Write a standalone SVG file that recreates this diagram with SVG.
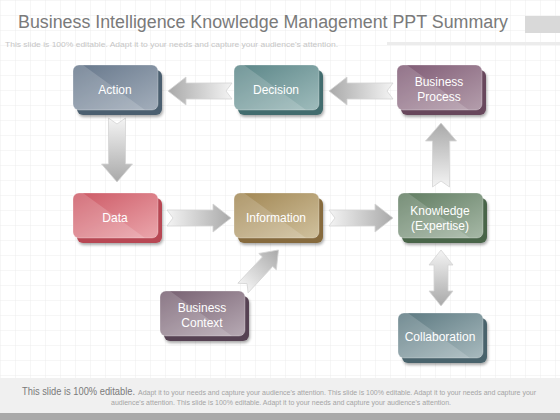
<svg xmlns="http://www.w3.org/2000/svg" xmlns:xlink="http://www.w3.org/1999/xlink" width="560" height="420" viewBox="0 0 560 420">
<style>
.lbl{font-family:"Liberation Sans",Arial,sans-serif;font-size:12px;fill:#ffffff;text-anchor:middle}
.arrow{stroke:#d4d4d4;stroke-width:0.8;fill:url(#ag)}
.hl{fill:#ffffff;fill-opacity:0.16}
.front{stroke:#ffffff;stroke-opacity:0.35;stroke-width:0.8}
</style>
<defs>
<pattern id="grid" width="15" height="15" patternUnits="userSpaceOnUse">
<path d="M15 0H0V15" fill="none" stroke="#e9e9e9" stroke-width="0.8"/>
</pattern>
<linearGradient id="ag" x1="0" y1="0" x2="1" y2="0">
<stop offset="0" stop-color="#f4f4f4"/>
<stop offset="1" stop-color="#a9a9a9"/>
</linearGradient>
<filter id="ds" x="-20%" y="-20%" width="140%" height="150%">
<feGaussianBlur in="SourceAlpha" stdDeviation="1.5"/>
<feOffset dx="0.5" dy="1.5" result="b"/>
<feComponentTransfer><feFuncA type="linear" slope="0.35"/></feComponentTransfer>
<feMerge><feMergeNode/><feMergeNode in="SourceGraphic"/></feMerge>
</filter>
<clipPath id="bc"><rect x="0" y="0" width="85" height="45" rx="6"/></clipPath>
<path id="hlp" d="M0 0H10L72 45H0Z"/>
<path id="arr" d="M0 -8H46V-14L64 0L46 14V8H0L6 0Z"/>
<path id="arrV" d="M0 -8.5H46V-15.5L64 0L46 15.5V8.5H0L6 0Z"/>
<path id="arrD" d="M0 0L15 -12V-7H41V-12L56 0L41 12V7H15V12Z"/>
<path id="arrS" d="M0 -7H36V-12L52 0L36 12V7H0L6 0Z"/>
<linearGradient id="g1" x1="0" y1="0" x2="1" y2="1"><stop offset="0" stop-color="#66778b"/><stop offset="1" stop-color="#a3aebb"/></linearGradient>
<linearGradient id="g2" x1="0" y1="0" x2="1" y2="1"><stop offset="0" stop-color="#5a8587"/><stop offset="1" stop-color="#9fbcbc"/></linearGradient>
<linearGradient id="g3" x1="0" y1="0" x2="1" y2="1"><stop offset="0" stop-color="#7f5a74"/><stop offset="1" stop-color="#b49eac"/></linearGradient>
<linearGradient id="g4" x1="0" y1="0" x2="1" y2="1"><stop offset="0" stop-color="#cc5864"/><stop offset="1" stop-color="#eba6ac"/></linearGradient>
<linearGradient id="g5" x1="0" y1="0" x2="1" y2="1"><stop offset="0" stop-color="#a18652"/><stop offset="1" stop-color="#d0c19e"/></linearGradient>
<linearGradient id="g6" x1="0" y1="0" x2="1" y2="1"><stop offset="0" stop-color="#5f7b60"/><stop offset="1" stop-color="#a6b8a6"/></linearGradient>
<linearGradient id="g7" x1="0" y1="0" x2="1" y2="1"><stop offset="0" stop-color="#765f70"/><stop offset="1" stop-color="#b7aab4"/></linearGradient>
<linearGradient id="g8" x1="0" y1="0" x2="1" y2="1"><stop offset="0" stop-color="#5b7880"/><stop offset="1" stop-color="#a8babe"/></linearGradient>
</defs>

<rect x="0" y="0" width="560" height="420" fill="#ffffff"/>
<rect x="0" y="0" width="560" height="378" fill="url(#grid)"/>

<g id="header">
<text x="18" y="28" font-family="Liberation Sans,Arial,sans-serif" font-size="18" fill="#7a7a7a" textLength="490" lengthAdjust="spacingAndGlyphs">Business Intelligence Knowledge Management PPT Summary</text>
<text x="5" y="47" font-family="Liberation Sans,Arial,sans-serif" font-size="7.5" fill="#c6c6c6" textLength="333" lengthAdjust="spacingAndGlyphs">This slide is 100% editable. Adapt it to your needs and capture your audience's attention.</text>
<rect x="525" y="16" width="35" height="17" fill="#d9d9d9"/>
<rect x="387" y="42" width="173" height="3" fill="#ececec"/>
</g>

<g id="connectors">
<use xlink:href="#arr" class="arrow" transform="translate(232,91) rotate(180)"/>
<use xlink:href="#arr" class="arrow" transform="translate(393,91) rotate(180)"/>
<use xlink:href="#arrV" class="arrow" transform="translate(117,118) rotate(90)"/>
<use xlink:href="#arr" class="arrow" transform="translate(167,218)"/>
<use xlink:href="#arr" class="arrow" transform="translate(329,218)"/>
<use xlink:href="#arrV" class="arrow" transform="translate(441,187) rotate(-90)"/>
<use xlink:href="#arrD" class="arrow" transform="translate(441,250) rotate(90)"/>
<use xlink:href="#arrS" class="arrow" transform="translate(243,288) rotate(-47)"/>
</g>

<g id="node-action" transform="translate(73,65)">
<rect x="4" y="5" width="85" height="45" rx="6" fill="#4b5f6f" filter="url(#ds)"/>
<rect width="85" height="45" rx="6" fill="url(#g1)" class="front"/>
<use xlink:href="#hlp" class="hl" clip-path="url(#bc)"/>
<text x="42" y="29" class="lbl">Action</text>
</g>
<g id="node-decision" transform="translate(234,65)">
<rect x="4" y="5" width="85" height="45" rx="6" fill="#436c6e" filter="url(#ds)"/>
<rect width="85" height="45" rx="6" fill="url(#g2)" class="front"/>
<use xlink:href="#hlp" class="hl" clip-path="url(#bc)"/>
<text x="42" y="29" class="lbl">Decision</text>
</g>
<g id="node-business-process" transform="translate(397,65)">
<rect x="4" y="5" width="85" height="45" rx="6" fill="#68475c" filter="url(#ds)"/>
<rect width="85" height="45" rx="6" fill="url(#g3)" class="front"/>
<use xlink:href="#hlp" class="hl" clip-path="url(#bc)"/>
<text x="42" y="21" class="lbl">Business</text>
<text x="42" y="36" class="lbl">Process</text>
</g>
<g id="node-data" transform="translate(73,193)">
<rect x="4" y="5" width="85" height="45" rx="6" fill="#b84652" filter="url(#ds)"/>
<rect width="85" height="45" rx="6" fill="url(#g4)" class="front"/>
<use xlink:href="#hlp" class="hl" clip-path="url(#bc)"/>
<text x="42" y="29" class="lbl">Data</text>
</g>
<g id="node-information" transform="translate(234,193)">
<rect x="4" y="5" width="85" height="45" rx="6" fill="#866b3c" filter="url(#ds)"/>
<rect width="85" height="45" rx="6" fill="url(#g5)" class="front"/>
<use xlink:href="#hlp" class="hl" clip-path="url(#bc)"/>
<text x="42" y="29" class="lbl">Information</text>
</g>
<g id="node-knowledge" transform="translate(398,193)">
<rect x="4" y="5" width="85" height="45" rx="6" fill="#48654a" filter="url(#ds)"/>
<rect width="85" height="45" rx="6" fill="url(#g6)" class="front"/>
<use xlink:href="#hlp" class="hl" clip-path="url(#bc)"/>
<text x="42" y="22" class="lbl">Knowledge</text>
<text x="42" y="37" class="lbl">(Expertise)</text>
</g>
<g id="node-business-context" transform="translate(160,291)">
<rect x="4" y="5" width="85" height="45" rx="6" fill="#574352" filter="url(#ds)"/>
<rect width="85" height="45" rx="6" fill="url(#g7)" class="front"/>
<use xlink:href="#hlp" class="hl" clip-path="url(#bc)"/>
<text x="42" y="21" class="lbl">Business</text>
<text x="42" y="36" class="lbl">Context</text>
</g>
<g id="node-collaboration" transform="translate(398,313)">
<rect x="4" y="5" width="85" height="45" rx="6" fill="#48646c" filter="url(#ds)"/>
<rect width="85" height="45" rx="6" fill="url(#g8)" class="front"/>
<use xlink:href="#hlp" class="hl" clip-path="url(#bc)"/>
<text x="42" y="28" class="lbl">Collaboration</text>
</g>

<g id="footer">
<rect x="0" y="378" width="560" height="35" fill="#f0f0f0"/>
<rect x="0" y="413" width="560" height="7" fill="#a9a9a9"/>
<text x="22" y="395" font-family="Liberation Sans,Arial,sans-serif" font-size="10.5" fill="#7a7a7a" textLength="113" lengthAdjust="spacingAndGlyphs">This slide is 100% editable.</text>
<text x="138" y="395" font-family="Liberation Sans,Arial,sans-serif" font-size="6.5" fill="#a4a4a4" textLength="398" lengthAdjust="spacingAndGlyphs">Adapt it to your needs and capture your audience's attention. This slide is 100% editable. Adapt it to your needs and capture your</text>
<text x="111" y="405" font-family="Liberation Sans,Arial,sans-serif" font-size="6.5" fill="#a4a4a4" textLength="340" lengthAdjust="spacingAndGlyphs">audience's attention. This slide is 100% editable. Adapt it to your needs and capture your audience's attention.</text>
</g>
</svg>
